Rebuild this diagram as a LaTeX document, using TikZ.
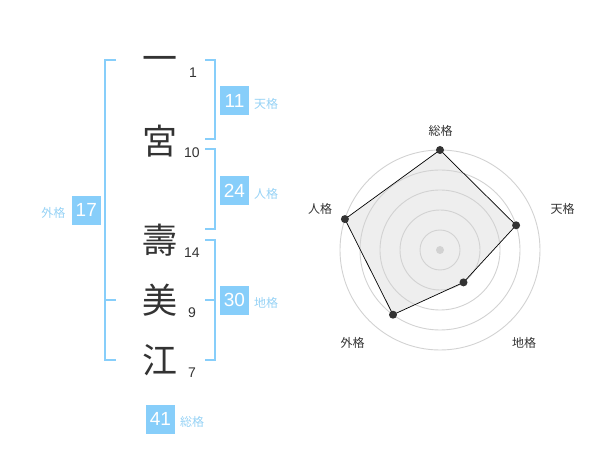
\documentclass[tikz,border=0pt]{standalone}
\usepackage{fontspec}
\setmainfont{Liberation Sans}
\newfontfamily\jp{Noto Sans CJK JP}
\definecolor{kblue}{RGB}{135,206,250}
\definecolor{lblue}{RGB}{150,210,245}
\definecolor{ink}{RGB}{51,51,51}
\definecolor{ring}{RGB}{210,210,210}
\definecolor{area}{RGB}{238,238,238}
\begin{document}
\begin{tikzpicture}[x=1pt,y=-1pt,
  kanji/.style={font=\jp\fontsize{35}{35}\selectfont, text=ink, inner sep=0pt, text height=0.88em, text depth=0.12em},
  strokes/.style={font=\fontsize{14}{14}\selectfont, text=ink, inner sep=0pt},
  numbox/.style={fill=kblue, text=white, minimum size=29pt, inner sep=0pt, font=\fontsize{19}{19}\selectfont},
  tag/.style={font=\jp\fontsize{12}{12}\selectfont, text=lblue, inner sep=0pt},
  bracket/.style={draw=kblue, line width=1.6pt},
  ringline/.style={draw=ring, line width=0.9pt},
  axlabel/.style={font=\jp\fontsize{12}{12}\selectfont, text=ink, inner sep=0pt},
  dot/.style={circle, fill=ink, minimum size=8pt, inner sep=0pt},
  shape line/.style={draw=black, line width=0.7pt, line join=miter}
]
\useasboundingbox (0,0) rectangle (600,470);

% name characters
\node[kanji] (k1) at (160,68) {一};
\node[kanji] (k2) at (160,151) {宮};
\node[kanji] (k3) at (160,250) {壽};
\node[kanji] (k4) at (160,310) {美};
\node[kanji] (k5) at (160,370) {江};

\node[strokes] (s1) at (193,73) {1};
\node[strokes] (s2) at (192,153) {10};
\node[strokes] (s3) at (192,253) {14};
\node[strokes] (s4) at (192,313) {9};
\node[strokes] (s5) at (192,373) {7};

% brackets
\draw[bracket] (116,60) -- (105,60) -- (105,360) -- (116,360);
\draw[bracket] (105,300) -- (116,300);
\draw[bracket] (205,60) -- (215,60) -- (215,139) -- (205,139);
\draw[bracket] (205,149) -- (215,149) -- (215,229) -- (205,229);
\draw[bracket] (205,240) -- (215,240) -- (215,360) -- (205,360);
\draw[bracket] (205,300) -- (215,300);

% boxes and tags
\node[numbox] (ten) at (234.5,100.5) {11};
\node[tag, anchor=west] (tenl) at (254,103.5) {天格};
\node[numbox] (jin) at (234.5,190.5) {24};
\node[tag, anchor=west] (jinl) at (254,193.5) {人格};
\node[numbox] (chi) at (234.5,300.3) {30};
\node[tag, anchor=west] (chil) at (254,303.3) {地格};
\node[numbox] (gai) at (86.3,210.3) {17};
\node[tag, anchor=east] (gail) at (65.5,213.3) {外格};
\node[numbox] (sou) at (160.5,419) {41};
\node[tag, anchor=west] (soul) at (180,422) {総格};

% radar chart
\coordinate (C) at (440,250);
\coordinate (pSou) at (440,150);
\coordinate (pTen) at (516.1,225.3);
\coordinate (pChi) at (463.5,282.4);
\coordinate (pGai) at (393.0,314.7);
\coordinate (pJin) at (344.9,219.1);

\fill[area] (pSou) -- (pTen) -- (pChi) -- (pGai) -- (pJin) -- cycle;
\foreach \r in {20,40,60,80,100} {
  \draw[ringline] (C) circle[radius=\r];
}
\fill[ring] (C) circle[radius=4];
\draw[shape line] (pSou) -- (pTen) -- (pChi) -- (pGai) -- (pJin) -- cycle;
\node[dot] (dSou) at (pSou) {};
\node[dot] (dTen) at (pTen) {};
\node[dot] (dChi) at (pChi) {};
\node[dot] (dGai) at (pGai) {};
\node[dot] (dJin) at (pJin) {};

\node[axlabel] (aSou) at (440.5,130.5) {総格};
\node[axlabel] (aTen) at (562.5,208.5) {天格};
\node[axlabel] (aChi) at (524,342.5) {地格};
\node[axlabel] (aGai) at (352.5,342.5) {外格};
\node[axlabel] (aJin) at (320,208.5) {人格};
\end{tikzpicture}
\end{document}
